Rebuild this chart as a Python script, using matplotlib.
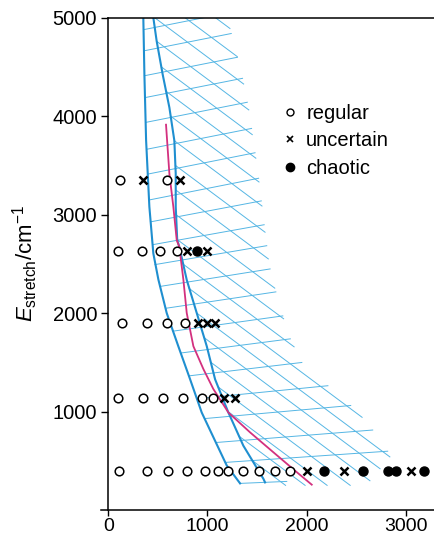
import matplotlib.pyplot as plt
from matplotlib.lines import Line2D

plt.rcParams['font.family'] = ['Liberation Sans', 'DejaVu Sans']
plt.rcParams['mathtext.fontset'] = 'custom'
plt.rcParams['mathtext.rm'] = 'Liberation Sans'
plt.rcParams['mathtext.it'] = 'Liberation Sans:italic'

# classified states: (x, E_stretch)
regular_x = [108, 387, 600, 794, 976, 1107, 1208, 1359, 1521, 1682, 1834,
             99, 350, 552, 754, 946, 1057,
             139, 391, 592, 774,
             98, 340, 522, 693,
             118, 592]
regular_E = [400] * 11 + [1140] * 6 + [1900] * 4 + [2633] * 4 + [3353] * 2

uncertain_x = [2003, 2376, 3052, 1168, 1279, 905, 996, 1077, 794, 996, 350, 724]
uncertain_E = [400] * 3 + [1140] * 2 + [1900] * 3 + [2633] * 2 + [3353] * 2

chaotic_x = [2174, 2568, 2820, 2900, 3186, 895]
chaotic_E = [400] * 5 + [2633]

# boundary curves
left_x = [353, 364, 381, 414, 454, 505, 589, 706, 824, 942, 1100, 1195, 1329]
left_E = [5000, 4420, 3755, 3080, 2606, 2340, 2000, 1663, 1330, 990, 653, 451, 270]
right_x = [454, 488, 549, 616, 666, 680, 680, 695, 716, 791, 892, 993, 1077, 1211, 1362, 1564, 1581]
right_E = [5000, 4760, 4420, 4087, 3751, 3414, 3078, 2741, 2673, 2337, 2000, 1663, 1327, 990, 653, 317, 280]
magenta_x = [582, 616, 656, 690, 716, 757, 791, 858, 959, 1059, 1211, 1430, 1665, 1901, 2052]
magenta_E = [3913, 3414, 3078, 2741, 2673, 2340, 2000, 1663, 1431, 1229, 990, 788, 586, 384, 257]

# mesh: near-horizontal lines
hl_x0 = [355, 359, 364, 370, 376, 386, 397, 410, 425, 446, 470, 520, 577, 652, 730, 813, 893, 970, 1085, 1180, 1329]
hl_E0 = [4878, 4663, 4410, 4188, 3936, 3663, 3411, 3148, 2926, 2694, 2492, 2270, 2048, 1816, 1594, 1362, 1130, 928, 685, 483, 270]
hl_x1 = [1200, 1240, 1303, 1354, 1402, 1445, 1480, 1516, 1543, 1572, 1598, 1632, 1690, 1760, 1836, 1952, 2215, 2445, 2667, 2818, 1800]
hl_E1 = [5047, 4839, 4598, 4384, 4141, 3875, 3628, 3369, 3139, 2897, 2684, 2448, 2215, 1971, 1738, 1498, 1262, 1061, 812, 597, 290]

# mesh: diagonal lines
dg_x0 = [1080, 773, 467, 488, 535, 585, 628, 666, 676, 680, 682, 690, 750, 815, 892, 967, 1034, 1107, 1207, 1318, 1455]
dg_E0 = [5000, 5000, 5000, 4760, 4500, 4250, 4000, 3750, 3500, 3250, 3000, 2750, 2500, 2250, 2000, 1750, 1500, 1250, 1000, 750, 500]
dg_x1 = [1227, 1300, 1365, 1417, 1452, 1488, 1520, 1550, 1581, 1614, 1679, 1768, 1874, 2560, 2840, 2741, 2639, 2440, 2207, 1985, 1788]
dg_E1 = [4890, 4605, 4326, 4063, 3812, 3573, 3331, 3087, 2821, 2550, 2253, 1942, 1657, 941, 539, 419, 297, 250, 250, 250, 250]

mesh_c = '#55b6e4'
curve_c = '#1f8fd0'
magenta = '#d3307f'

fig = plt.figure(figsize=(4.34, 5.40), dpi=100)
ax = fig.add_axes([0.2336, 0.0556, 0.7675, 0.9117])

for x0, e0, x1, e1 in zip(hl_x0, hl_E0, hl_x1, hl_E1):
    ax.plot([x0, x1], [e0, e1], color=mesh_c, lw=0.7)
for x0, e0, x1, e1 in zip(dg_x0, dg_E0, dg_x1, dg_E1):
    ax.plot([x0, x1], [e0, e1], color=mesh_c, lw=0.7)

ax.plot(left_x, left_E, color=curve_c, lw=1.5)
ax.plot(right_x, right_E, color=curve_c, lw=1.5)
ax.plot(magenta_x, magenta_E, color=magenta, lw=1.3)

ax.plot(regular_x, regular_E, 'o', ms=6.2, mfc='white', mec='black', mew=1.1, ls='none')
ax.plot(uncertain_x, uncertain_E, 'x', ms=6, mec='black', mew=1.8, ls='none')
ax.plot(chaotic_x, chaotic_E, 'o', ms=6.5, mfc='black', mec='black', ls='none')

handles = [
    Line2D([], [], marker='o', ls='none', ms=5, mfc='white', mec='black', mew=1.0),
    Line2D([], [], marker='x', ls='none', ms=5, mec='black', mew=1.2),
    Line2D([], [], marker='o', ls='none', ms=6, mfc='black', mec='black'),
]
ax.legend(handles, ['regular', 'uncertain', 'chaotic'], loc='upper left',
          bbox_to_anchor=(0.515, 0.845), frameon=False, fontsize=14.5,
          handlelength=0.7, handletextpad=0.45, labelspacing=0.42, borderpad=0)

ax.set_xlim(-70, 3290)
ax.set_ylim(0, 5000)
ax.spines['left'].set_position(('data', 0))
ax.spines['top'].set_bounds(0, 3290)
ax.spines['right'].set_visible(False)
for s in ax.spines.values():
    s.set_linewidth(1.1)

ax.set_xticks([0, 1000, 2000, 3000])
ax.set_yticks([1000, 2000, 3000, 4000, 5000])
ax.tick_params(direction='out', length=5, width=1, labelsize=14.5, pad=3)
ax.tick_params(axis='x', length=4.5, pad=1, labelsize=14)

ax.set_ylabel(r'$E_{\mathrm{stretch}}/\mathrm{cm}^{-1}$', fontsize=16)
ax.yaxis.set_label_coords(-0.185, 0.5)

fig.savefig('out.png', dpi=100)
